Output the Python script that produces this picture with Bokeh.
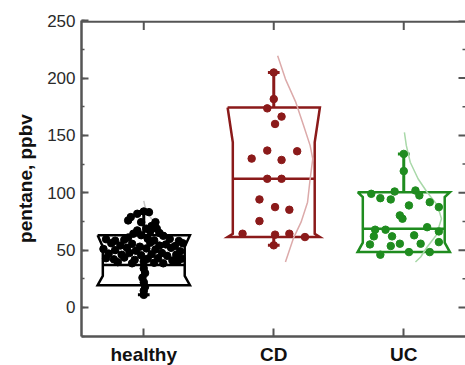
import math
from bokeh.plotting import figure
from bokeh.models import Range1d, LinearAxis, FixedTicker, SingleIntervalTicker, BoxAnnotation
from bokeh.embed import file_html
from bokeh.resources import INLINE

# ---------------- data ----------------
categories = ["healthy", "CD", "UC"]
y_label = "pentane, ppbv"
y_major_ticks = [0, 50, 100, 150, 200, 250]
y_minor_ticks = [25, 75, 125, 175, 225]

# box statistics (ppbv)
q1 = [19.4, 61.4, 48.3]
median = [37.0, 112.2, 68.7]
q3 = [62.9, 174.4, 100.5]
notch_lo = [27.5, 64.3, 56.5]
notch_hi = [53.0, 144.0, 96.2]
whisker_lo = [11.0, 54.2, 48.3]
whisker_hi = [83.7, 204.9, 133.9]

# individual measurements (ppbv) and their horizontal jitter (category units)
healthy_vals = [83.7, 83.1, 81.7, 78.8, 75.9, 74.4, 74.4, 71.0, 68.7, 68.7, 67.2, 66.5,
                64.3, 65.0, 63.0, 62.5, 61.0, 60.0,
                59.5, 58.2, 59.0, 58.5, 59.8, 58.0,
                56.0, 54.0, 55.5, 53.0, 56.5, 54.0, 55.0, 53.5, 56.0,
                51.0, 50.0, 52.0, 49.5, 51.5, 50.5, 52.0, 49.0,
                47.0, 46.0, 47.5, 45.5, 46.5, 47.5, 45.0, 46.0,
                43.0, 42.0, 43.5, 41.5, 42.5, 43.0, 41.0, 42.5,
                39.5, 38.5, 40.0, 39.0, 38.5, 40.0,
                34.0, 30.0, 26.0, 22.0, 18.0, 14.5, 11.0]
healthy_jit = [0.00, 0.04, -0.05, -0.10, -0.12, 0.09, -0.02, 0.06, 0.10, 0.02, -0.05, 0.05,
               -0.08, 0.12, -0.02, 0.15, -0.12, 0.03,
               -0.29, -0.22, -0.15, 0.08, 0.20, 0.27,
               -0.25, -0.18, -0.09, -0.03, 0.05, 0.12, 0.17, 0.24, 0.30,
               -0.31, -0.22, -0.13, -0.06, 0.02, 0.09, 0.21, 0.28,
               -0.27, -0.17, -0.11, -0.02, 0.06, 0.14, 0.18, 0.25,
               -0.29, -0.23, -0.15, -0.07, 0.03, 0.11, 0.22, 0.29,
               -0.20, -0.09, 0.00, 0.08, 0.15, 0.26,
               0.00, 0.01, -0.01, 0.00, 0.01, 0.00, 0.00]

cd_vals = [204.9, 181.7, 173.6, 166.4, 160.0, 136.8, 136.2, 129.8, 128.6, 112.2,
           112.2, 94.2, 87.5, 85.2, 75.3, 64.3, 63.5, 64.3, 61.4, 54.2]
cd_jit = [0.00, 0.00, -0.05, 0.06, 0.01, -0.05, 0.18, -0.17, 0.06, -0.05,
          0.06, -0.11, 0.01, 0.12, -0.11, -0.24, 0.01, 0.12, 0.24, 0.00]

uc_vals = [133.9, 118.9, 99.1, 95.3, 94.2, 101.1, 102.0, 97.7, 91.8, 87.5,
           89.0, 80.3, 77.4, 67.8, 67.8, 70.0, 66.3, 62.0, 62.0, 62.9,
           55.0, 53.6, 55.6, 55.6, 57.0, 46.0, 48.3, 48.3]
uc_jit = [0.00, 0.00, -0.25, -0.18, -0.10, -0.07, 0.09, 0.12, 0.20, 0.27,
          0.04, -0.03, -0.01, -0.22, -0.14, 0.18, 0.27, -0.23, -0.09, 0.08,
          -0.26, -0.10, -0.03, 0.13, 0.27, -0.18, 0.04, 0.20]

# fitted distribution outline (value, horizontal extent in category units)
healthy_curve_vals = [93.0, 88.0, 82.0, 74.0, 66.0, 58.0]
healthy_curve_ext = [0.00, 0.01, 0.03, 0.08, 0.14, 0.20]
cd_curve_vals = [219.4, 199.1, 178.8, 158.5, 141.1, 129.6, 112.2, 91.8, 74.4, 60.0, 39.7]
cd_curve_ext = [0.03, 0.09, 0.17, 0.23, 0.28, 0.30, 0.28, 0.26, 0.21, 0.15, 0.09]
uc_curve_vals = [152.7, 141.1, 126.6, 112.2, 100.5, 89.0, 77.4, 62.9, 52.7, 44.0, 39.7]
uc_curve_ext = [0.005, 0.02, 0.05, 0.11, 0.18, 0.26, 0.29, 0.25, 0.18, 0.13, 0.09]

# ---------------- styling ----------------
colors = ["#000000", "#8b1a1a", "#1f8c1f"]
curve_colors = ["#c8c8c8", "#dcaaaa", "#a8d8a8"]
axis_color = "#555555"
FONT = "Liberation Sans"

points = [(healthy_vals, healthy_jit), (cd_vals, cd_jit), (uc_vals, uc_jit)]
curves = [(healthy_curve_vals, healthy_curve_ext), (cd_curve_vals, cd_curve_ext),
          (uc_curve_vals, uc_curve_ext)]

X0, X1 = 0.521, 3.475
Y0, Y1 = -25.3, 250.2
PX = (Y1 - Y0) / 316.0   # data units per screen pixel (vertical)

p = figure(frame_width=384, frame_height=316,
           x_range=Range1d(X0, X1), y_range=Range1d(Y0, Y1),
           output_backend="svg", toolbar_location=None,
           x_axis_location=None, y_axis_location=None,
           min_border_left=81, min_border_right=0, min_border_top=20, min_border_bottom=0)
p.xgrid.visible = False
p.ygrid.visible = False
p.outline_line_color = None
p.background_fill_color = "white"


def style_axis(ax):
    ax.axis_line_color = axis_color
    ax.axis_line_width = 2.5
    ax.major_tick_line_color = axis_color
    ax.minor_tick_line_color = axis_color
    ax.major_tick_line_width = 2
    ax.minor_tick_line_width = 1.5
    ax.major_tick_out = 0
    ax.minor_tick_out = 0


yax = LinearAxis(ticker=SingleIntervalTicker(interval=50, num_minor_ticks=2),
                 axis_label=y_label)
style_axis(yax)
yax.major_tick_in = 7
yax.minor_tick_in = 3
yax.major_label_text_font = FONT
yax.major_label_text_font_size = "17px"
yax.major_label_text_color = "#2a2a2a"
yax.major_label_standoff = 6
yax.axis_label_text_font = FONT
yax.axis_label_text_font_style = "bold"
yax.axis_label_text_font_size = "19px"
yax.axis_label_text_color = "#111111"
yax.axis_label_standoff = 8
p.add_layout(yax, "left")

xax = LinearAxis(ticker=FixedTicker(ticks=[1, 2, 3], minor_ticks=[]),
                 major_label_overrides={i + 1: c for i, c in enumerate(categories)})
style_axis(xax)
xax.major_tick_in = 8
xax.minor_tick_in = 0
xax.major_label_text_font = FONT
xax.major_label_text_font_style = "bold"
xax.major_label_text_font_size = "19px"
xax.major_label_text_color = "#111111"
xax.major_label_standoff = 7
p.add_layout(xax, "below")

# top frame edge: a thin band just inside the frame
p.add_layout(BoxAnnotation(bottom=Y1 - 2.2 * PX, top=Y1, fill_color=axis_color,
                           fill_alpha=1.0, line_color=None))

# inward tick marks on the top and right edges of the frame
p.scatter([X1] * len(y_major_ticks), y_major_ticks, marker="dash", size=14,
          line_color=axis_color, line_width=2)
p.scatter([X1] * len(y_minor_ticks), y_minor_ticks, marker="dash", size=6,
          line_color=axis_color, line_width=1.5)
p.scatter([1, 2, 3], [Y1 - 5 * PX] * 3, marker="dash", size=9, angle=math.pi / 2,
          line_color=axis_color, line_width=2)

W = 0.355   # half-width of the box
WN = 0.315  # half-width at the notch
CAP = 0.045

for i in range(3):
    c = i + 1
    col = colors[i]
    # notched box outline
    xs = [c - W, c + W, c + WN, c + WN, c + W, c - W, c - WN, c - WN, c - W]
    ys = [q3[i], q3[i], notch_hi[i], notch_lo[i], q1[i], q1[i], notch_lo[i], notch_hi[i], q3[i]]
    p.line(xs, ys, line_color=col, line_width=2.5, line_join="miter")
    # median
    p.segment(x0=[c - WN], y0=[median[i]], x1=[c + WN], y1=[median[i]],
              line_color=col, line_width=2.5)
    # whiskers + caps
    if whisker_hi[i] > q3[i]:
        p.segment(x0=[c], y0=[q3[i]], x1=[c], y1=[whisker_hi[i]], line_color=col, line_width=3)
        p.segment(x0=[c - CAP], y0=[whisker_hi[i]], x1=[c + CAP], y1=[whisker_hi[i]],
                  line_color=col, line_width=3)
    if whisker_lo[i] < q1[i]:
        p.segment(x0=[c], y0=[q1[i]], x1=[c], y1=[whisker_lo[i]], line_color=col, line_width=3)
        p.segment(x0=[c - CAP], y0=[whisker_lo[i]], x1=[c + CAP], y1=[whisker_lo[i]],
                  line_color=col, line_width=3)
    # distribution outline
    cv, ce = curves[i]
    p.line([c + e for e in ce], cv, line_color=curve_colors[i], line_width=1.5)
    # data points
    vals, jit = points[i]
    p.scatter([c + j for j in jit], vals, size=7.5, marker="circle",
              fill_color=col, line_color=col)

open("out.html", "w").write(file_html(p, INLINE))
